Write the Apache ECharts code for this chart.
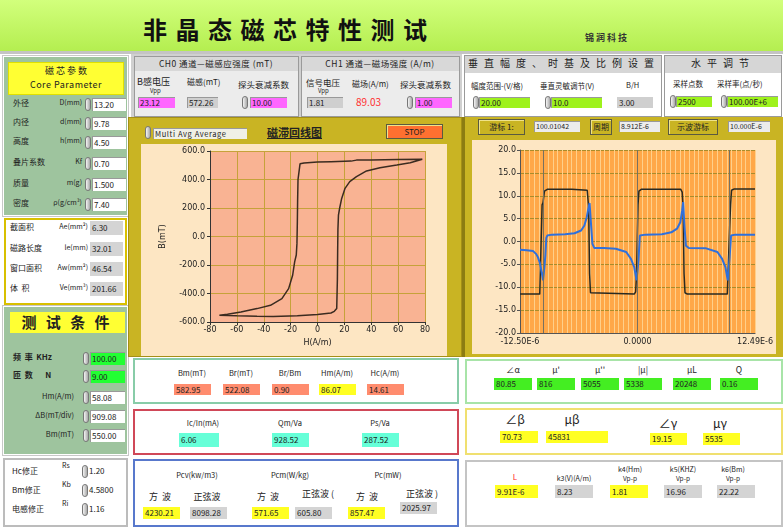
<!DOCTYPE html>
<html>
<head>
<meta charset="utf-8">
<script src="https://cdn.jsdelivr.net/npm/echarts@6/dist/echarts.min.js"></script>
<style>
body{margin:0;width:783px;height:529px;overflow:hidden;background:#fff;position:relative;
  font-family:"Noto Sans CJK SC","DejaVu Sans",sans-serif;}
.a{position:absolute;box-sizing:border-box;}
.t{position:absolute;font-size:8px;color:#222;white-space:nowrap;line-height:1;}
.v{position:absolute;box-sizing:border-box;font-size:8px;color:#222;white-space:nowrap;padding-left:2px;
  box-shadow:inset 1px 1px 0 #999;}
.sp{position:absolute;box-sizing:border-box;width:6px;height:13px;border-radius:3px;
  background:linear-gradient(90deg,#f4f4f4,#a8a8a8);border:1px solid #777;}
.btn{position:absolute;box-sizing:border-box;font-size:8px;color:#222;text-align:center;
  border:1px solid #5a5a40;box-shadow:inset 1px 1px 0 #efe28a;}
.chart{position:absolute;z-index:2;}
</style>
</head>
<body>
<div id="hystChart" class="chart" style="left:141px;top:144px;width:306px;height:212px"></div>
<div id="waveChart" class="chart" style="left:472px;top:140px;width:304px;height:214px"></div>
<script>
// 磁滞回线 [H(A/m), B(mT)]
const hysteresisLoop = [
  [78, 542], [60, 540], [40, 537], [29, 536], [25, 529], [10, 525], [0, 522], [-5, 520],
  [-10, 516], [-13, 510], [-14.3, 500], [-14.5, 400], [-14.8, 250], [-15, 100], [-15.3, -50],
  [-15.8, -130], [-17, -178], [-18.5, -272], [-21.5, -366], [-26.5, -436], [-35, -483],
  [-45, -506], [-57, -530], [-67, -546], [-73, -553],
  [-60, -557], [-45, -560], [-33, -561], [-15, -556], [0, -548], [10, -537], [12.5, -525],
  [14.3, -505], [14.8, -300], [15, -100], [15.2, 50], [15.6, 150], [16.5, 200], [18, 267],
  [20.5, 338], [24, 385], [29, 420], [36.5, 460], [46.5, 483], [59, 502], [69, 518], [78, 542]
];
const hystXTicks = [-80, 80, 20];
const hystYTicks = [-600, 600, 200];

// 波形 [t(us), V]
const squareWave = [
  [-12.5, -11.5], [-10.4, -11.5], [-10.25, -11.2], [-10.15, 8.0], [-10.05, 8.5], [-9.9, 11.0],
  [-9.6, 11.4], [-7.0, 11.4], [-6.9, 11.2], [-5.35, 11.2], [-5.25, 10.8], [-5.2, 7.5],
  [-5.1, -7.0], [-5.0, -11.2], [-4.8, -11.5], [-0.35, -11.5], [-0.2, -11.0], [-0.1, -7.0],
  [0.05, 8.0], [0.15, 11.0], [0.4, 11.4], [4.6, 11.4], [4.75, 10.8], [4.85, 7.5], [4.95, -7.0],
  [5.05, -11.2], [5.3, -11.5], [9.55, -11.5], [9.7, -11.2], [9.8, 3.0], [9.9, 8.0],
  [10.0, 11.2], [10.3, 11.5], [12.5, 11.5]
];
const currentWave = [
  [-12.5, -1.8], [-11.8, -1.9], [-11.1, -2.1], [-10.8, -2.7], [-10.6, -3.4], [-10.4, -4.6],
  [-10.3, -5.6], [-10.15, -7.2], [-10.05, -8.5], [-9.9, -5.5], [-9.8, -3.0], [-9.7, 0.8],
  [-9.6, 1.3], [-9.1, 1.5], [-7.7, 1.6], [-6.7, 1.8], [-6.0, 2.4], [-5.65, 3.5], [-5.4, 5.3],
  [-5.2, 7.5], [-5.1, 8.4], [-4.95, 3.9], [-4.8, -0.5], [-4.6, -1.4], [-3.6, -1.4],
  [-2.3, -1.6], [-1.2, -2.3], [-0.7, -3.8], [-0.35, -5.6], [-0.1, -8.5], [0.1, -4.2],
  [0.25, 1.3], [0.85, 1.5], [2.6, 1.6], [3.6, 2.0], [4.2, 2.8], [4.55, 4.2], [4.75, 6.8],
  [4.85, 8.6], [5.0, 3.1], [5.15, -0.9], [5.45, -1.4], [7.3, -1.5], [8.5, -2.3], [9.0, -3.8],
  [9.35, -5.6], [9.6, -8.5], [9.8, -3.4], [9.95, 1.3], [10.4, 1.5], [12.5, 1.5]
];
const cursorX = [-10, 0, 9.8];
const waveXLabelValues = [-12.5, 0, 12.5];
const waveXLabelText = ['-12.50E-6', '0.0000', '12.49E-6'];
const waveYTicks = [-20, 20, 5];

// 面板数值
const coreNames = ['外径', '内径', '高度', '叠片系数', '质量', '密度'];
const coreUnits = ['D(mm)', 'd(mm)', 'h(mm)', 'Kf', 'm(g)', 'ρ(g/cm³)'];
const coreValues = ['13.20', '9.78', '4.50', '0.70', '1.500', '7.40'];
const geoNames = ['截面积', '磁路长度', '窗口面积', '体  积'];
const geoUnits = ['Ae(mm²)', 'le(mm)', 'Aw(mm²)', 'Ve(mm³)'];
const geoValues = ['6.30', '32.01', '46.54', '201.66'];
const condLabels = ['Hm(A/m)', 'ΔB(mT/div)', 'Bm(mT)'];
const condValues = ['100.00', '9.00', '58.08', '909.08', '550.00'];
const corrNames = ['Hc修正', 'Bm修正', '电感修正'];
const corrSymbols = ['Rs', 'Kb', 'Ri'];
const corrValues = ['1.20', '4.5800', '1.16'];
const bLabels = ['Bm(mT)', 'Br(mT)', 'Br/Bm', 'Hm(A/m)', 'Hc(A/m)'];
const bValues = ['582.95', '522.08', '0.90', '86.07', '14.61'];
const pLabels = ['Ic/In(mA)', 'Qm/Va', 'Ps/Va'];
const pValues = ['6.06', '928.52', '287.52'];
const lossHeads = ['Pcv(kw/m3)', 'Pcm(W/kg)', 'Pc(mW)'];
const lossValues = ['4230.21', '8098.28', '571.65', '605.80', '857.47', '2025.97'];
const muLabels = ['∠α', "μ'", "μ''", '|μ|', 'μL', 'Q'];
const muValues = ['80.85', '816', '5055', '5338', '20248', '0.16'];
const angLabels = ['∠β', 'μβ', '∠γ', 'μγ'];
const angValues = ['70.73', '45831', '19.15', '5535'];
const kLabels = ['k3(V)(A/m)', 'k4(Hm)', 'k5(KHZ)', 'k6(Bm)'];
const kValues = ['9.91E-6', '8.23', '1.81', '16.96', '22.22'];

// ---------- 界面 ----------
const root = document.body;
function rect(x, y, w, h, style) {
  const d = document.createElement('div');
  d.className = 'a';
  d.style.cssText = `left:${x}px;top:${y}px;width:${w}px;height:${h}px;` + (style || '');
  root.appendChild(d);
  return d;
}
function text(x, y, s, style) {
  const d = document.createElement('div');
  d.className = 't';
  d.style.cssText = `left:${x}px;top:${y}px;` + (style || '');
  d.textContent = s;
  root.appendChild(d);
  return d;
}
function ctext(cx, y, s, style) {
  return text(cx, y, s, 'transform:translateX(-50%);' + (style || ''));
}
function rtext(rx, y, s, style) {
  return text(rx, y, s, 'transform:translateX(-100%);' + (style || ''));
}
function field(x, y, w, h, s, bg, style) {
  const d = document.createElement('div');
  d.className = 'v';
  d.style.cssText = `left:${x}px;top:${y}px;width:${w}px;height:${h}px;line-height:${h}px;background:${bg};` + (style || '');
  d.textContent = s;
  root.appendChild(d);
  return d;
}
function spin(x, y) {
  const d = document.createElement('div');
  d.className = 'sp';
  d.style.cssText = `left:${x}px;top:${y}px;`;
  root.appendChild(d);
}
function btn(x, y, w, h, s, bg) {
  const d = document.createElement('div');
  d.className = 'btn';
  d.style.cssText = `left:${x}px;top:${y}px;width:${w}px;height:${h}px;line-height:${h - 2}px;background:${bg};`;
  d.textContent = s;
  root.appendChild(d);
}

// 标题栏
rect(0, 0, 783, 51, 'background:linear-gradient(#d2ff7c,#b4ee50);');
text(143, 17, '非晶态磁芯特性测试', 'font-size:24px;font-weight:bold;letter-spacing:8.5px;color:#111;');
text(585, 33, '锦润科技', 'font-size:9px;font-weight:bold;letter-spacing:2px;color:#333;');
rect(0, 51, 783, 3, 'background:#c4c4c4;');

// 左列
rect(0, 54, 131, 475, 'background:#fff;');
rect(3, 56, 125, 160, 'background:#9ec49e;border:1px solid #fff;outline:1px solid #c8c8c8;');
rect(8, 62, 116, 33, 'background:#ffff33;border:1px solid #e0e000;');
ctext(66, 66, '磁 芯 参 数', 'font-size:9px;');
ctext(66, 80, 'Core  Parameter', 'font-size:9px;letter-spacing:0.5px;');
const coreY = [104, 123, 142, 163, 184, 204];
coreNames.forEach((n, i) => {
  text(13, coreY[i] - 5, n, 'font-size:8px;');
  rtext(82, coreY[i] - 5, coreUnits[i], 'font-size:7px;');
  spin(85, coreY[i] - 6);
  field(92, coreY[i] - 6, 34, 13, coreValues[i], '#fff');
});

rect(4, 218, 123, 87, 'background:#fff;border:2px solid #d8c000;');
const geoY = [228, 249, 269, 289];
geoNames.forEach((n, i) => {
  text(10, geoY[i] - 5, n, 'font-size:8px;white-space:pre;');
  rtext(88, geoY[i] - 5, geoUnits[i], 'font-size:7px;');
  field(90, geoY[i] - 7, 33, 14, geoValues[i], '#d4d4d4', 'box-shadow:none;');
});

rect(3, 306, 125, 149, 'background:#9ec49e;border:1px solid #fff;outline:1px solid #c8c8c8;');
rect(10, 312, 115, 21, 'background:#ffff33;');
ctext(67, 314, '测 试 条 件', 'font-size:15px;font-weight:bold;letter-spacing:3px;color:#222;');
const condY = [358, 376, 397, 416, 435];
text(13, condY[0] - 5, '频  率  KHz', 'font-size:8px;white-space:pre;font-weight:bold;');
text(13, condY[1] - 5, '匝  数       N', 'font-size:8px;white-space:pre;font-weight:bold;');
condLabels.forEach((n, i) => rtext(74, condY[i + 2] - 5, n, 'font-size:7.5px;'));
condValues.forEach((s, i) => {
  spin(83, condY[i] - 6);
  field(90, condY[i] - 6, 35, 13, s, i < 2 ? '#22ff33' : '#fff');
});

rect(3, 458, 125, 69, 'background:#fff;border:2px solid #bcbcbc;');
const corrY = [471, 490, 509];
corrNames.forEach((n, i) => {
  text(12, corrY[i] - 4, n, 'font-size:8px;');
  text(62, corrY[i] - 9, corrSymbols[i], 'font-size:7px;');
  spin(82, corrY[i] - 6);
  text(89, corrY[i] - 4, corrValues[i], 'font-size:8px;');
});

// 顶部通道面板
rect(131, 54, 331, 64, 'background:#d0d0d0;');
rect(134, 56, 165, 61, 'background:#ececec;border:1px solid #9a9a9a;');
rect(135, 57, 163, 14, 'background:#d8d8d8;');
ctext(216, 59, 'CH0 通道—磁感应强度 (mT)', 'font-size:8.5px;letter-spacing:0.5px;');
text(137, 77, 'B感电压', 'font-size:9px;');
text(150, 88, 'Vpp', 'font-size:6px;');
text(187, 78, '磁感(mT)', 'font-size:8px;');
text(238, 80, '探头衰减系数', 'font-size:8.5px;');
field(138, 97, 37, 11, '23.12', '#ff66ff');
field(187, 97, 31, 11, '572.26', '#cfcfcf');
spin(242, 96);
field(250, 97, 37, 11, '10.00', '#ff66ff');

rect(301, 56, 159, 61, 'background:#ececec;border:1px solid #9a9a9a;');
rect(302, 57, 157, 14, 'background:#d8d8d8;');
ctext(380, 59, 'CH1 通道—磁场强度 (A/m)', 'font-size:8.5px;letter-spacing:0.5px;');
text(306, 78, '信号电压', 'font-size:8.5px;');
text(318, 88, 'Vpp', 'font-size:6px;');
text(352, 80, '磁场(A/m)', 'font-size:8px;');
text(400, 80, '探头衰减系数', 'font-size:8.5px;');
field(307, 97, 36, 11, '1.81', '#cfcfcf');
text(356, 97, '89.03', 'font-size:10px;color:#ff3030;');
spin(407, 96);
field(415, 97, 37, 11, '1.00', '#ff66ff');

// 顶部设置面板
rect(462, 54, 321, 64, 'background:#fff;');
rect(464, 55, 198, 62, 'border:1px solid #9a9a9a;background:#fff;');
rect(465, 56, 196, 17, 'background:#d6d6d6;');
ctext(564, 58, '垂直幅度、时基及比例设置', 'font-size:10px;letter-spacing:6px;');
text(471, 82, '幅度范围-(V/格)', 'font-size:7.5px;');
text(540, 82, '垂直灵敏调节(V)', 'font-size:7.5px;');
text(626, 81, 'B/H', 'font-size:7.5px;');
spin(473, 96);
field(479, 97, 51, 11, '20.00', '#9ef21c');
spin(545, 96);
field(551, 97, 51, 11, '10.0', '#9ef21c');
field(617, 97, 36, 11, '3.00', '#cfcfcf', 'box-shadow:none;');

rect(664, 55, 118, 62, 'border:1px solid #9a9a9a;background:#fff;');
rect(665, 56, 116, 17, 'background:#d6d6d6;');
ctext(723, 58, '水平调节', 'font-size:10px;letter-spacing:6px;');
text(673, 80, '采样点数', 'font-size:7.5px;');
text(717, 80, '采样率(点/秒)', 'font-size:7.5px;');
spin(670, 95);
field(676, 96, 36, 11, '2500', '#9ef21c');
spin(721, 95);
field(727, 96, 51, 11, '100.00E+6', '#9ef21c');

// 图表面板
rect(128, 117, 334, 240, 'background:#c9b423;border:1px solid #a48f16;');
spin(145, 126);
field(153, 128, 94, 11, 'Multi Avg Average', '#f0f0e6', 'letter-spacing:0.6px;font-size:7.5px;');
text(267, 127, '磁滞回线图', 'font-size:11px;font-weight:bold;text-decoration:underline;color:#222;');
btn(386, 124, 57, 15, 'STOP', '#ff7030');

rect(462, 117, 321, 240, 'background:#c9b423;border-left:3px solid #8c7c12;');
btn(478, 119, 47, 16, '游标 1:', '#c9b423');
field(534, 121, 46, 11, '100.01042', '#ececec', 'font-size:7px;');
btn(590, 119, 22, 16, '周期', '#c9b423');
field(619, 121, 41, 11, '8.912E-6', '#ececec', 'font-size:7px;');
btn(668, 119, 50, 16, '示波游标', '#c9b423');
field(728, 121, 42, 11, '10.000E-6', '#ececec', 'font-size:7px;');

// 底部结果面板（中）
rect(133, 358, 326, 46, 'border:2px solid #88cca8;background:#fff;');
const bCx = [192, 241, 290, 337, 385];
bLabels.forEach((n, i) => {
  ctext(bCx[i], 369, n, 'font-size:7.5px;');
  field(bCx[i] - 18, 384, 37, 11, bValues[i], i === 3 ? '#ffff22' : '#ff8c6e', 'box-shadow:none;');
});
rect(133, 409, 326, 46, 'border:2px solid #d04858;background:#fff;');
const pCx = [203, 290, 380];
pLabels.forEach((n, i) => {
  ctext(pCx[i], 419, n, 'font-size:7.5px;');
  field(pCx[i] - 24 + (i === 0 ? 0 : 6), 433, i === 0 ? 40 : 37, 14, pValues[i], '#66ffd8', 'box-shadow:none;');
});
rect(133, 459, 326, 68, 'border:2px solid #5878cc;background:#fff;');
const lossCx = [197, 290, 388];
lossHeads.forEach((n, i) => ctext(lossCx[i], 471, n, 'font-size:7.5px;'));
const lossSub = ['方  波', '正弦波', '方  波', '正弦波 (', '方  波', '正弦波 )'];
const lossSubX = [160, 207, 268, 318, 367, 422];
const lossBoxX = [143, 190, 252, 295, 348, 400];
lossSub.forEach((n, i) => {
  const odd = i % 2 === 1;
  ctext(lossSubX[i], odd && i > 2 ? 489 : 492, n, 'font-size:9px;white-space:pre;');
  field(lossBoxX[i], i === 5 ? 502 : 507, 37, 12, lossValues[i], odd ? '#d4d4d4' : '#ffff22', 'box-shadow:none;');
});

// 底部结果面板（右）
rect(465, 359, 318, 45, 'border:2px solid #a8e4a8;background:#fff;');
const muCx = [513, 556, 600, 643, 692, 739];
muLabels.forEach((n, i) => {
  ctext(muCx[i], 365, n, 'font-size:8.5px;');
  field(muCx[i] - 19, 378, 38, 12, muValues[i], '#44ee22', 'box-shadow:none;');
});
rect(465, 408, 318, 47, 'border:2px solid #f0e070;background:#fff;');
const angCx = [515, 572, 668, 720];
const angBox = [[500, 38], [546, 62], [650, 37], [703, 37]];
angLabels.forEach((n, i) => {
  ctext(angCx[i], i < 2 ? 413 : 417, n, 'font-size:12px;');
  field(angBox[i][0], i < 2 ? 431 : 433, angBox[i][1], 12, angValues[i], '#ffff22', 'box-shadow:none;');
});
rect(465, 460, 318, 67, 'border:2px solid #c4c4c4;background:#fff;');
ctext(515, 473, 'L', 'font-size:8px;color:#ff2020;');
ctext(574, 475, kLabels[0], 'font-size:7px;');
ctext(630, 466, kLabels[1], 'font-size:7px;');
ctext(630, 475, 'Vp-p', 'font-size:6.5px;');
ctext(683, 466, kLabels[2], 'font-size:7px;');
ctext(683, 475, 'Vp-p', 'font-size:6.5px;');
ctext(733, 466, kLabels[3], 'font-size:7px;');
ctext(733, 475, 'Vp-p', 'font-size:6.5px;');
const kBoxX = [495, 555, 610, 664, 717];
kValues.forEach((s, i) => {
  field(kBoxX[i], 485, i === 0 ? 43 : 38, 13, s, (i === 0 || i === 2) ? '#ffff22' : '#d4d4d4', 'box-shadow:none;');
});

// ---------- 图表 ----------
const axisFont = { fontSize: 8, color: '#222', fontFamily: 'DejaVu Sans' };

const hystChart = echarts.init(document.getElementById('hystChart'));
hystChart.setOption({
  animation: false,
  backgroundColor: '#fde6c3',
  grid: { left: 69, top: 7, right: 22, bottom: 34, show: true, backgroundColor: '#f9b393', borderWidth: 0 },
  xAxis: {
    type: 'value', min: hystXTicks[0], max: hystXTicks[1], interval: hystXTicks[2],
    name: 'H(A/m)', nameLocation: 'middle', nameGap: 17, nameTextStyle: axisFont,
    axisLine: { onZero: false, lineStyle: { color: '#333' } },
    axisTick: { length: 3, lineStyle: { color: '#333' } },
    axisLabel: Object.assign({ margin: 4 }, axisFont),
    splitLine: { lineStyle: { color: '#c6a23a' } }
  },
  yAxis: {
    type: 'value', min: hystYTicks[0], max: hystYTicks[1], interval: hystYTicks[2],
    name: 'B(mT)', nameLocation: 'middle', nameGap: 43, nameRotate: 90, nameTextStyle: axisFont,
    axisLine: { show: true, onZero: false, lineStyle: { color: '#333' } },
    axisTick: { show: true, length: 3, lineStyle: { color: '#333' } },
    axisLabel: Object.assign({ margin: 5, formatter: v => v.toFixed(1) }, axisFont),
    splitLine: { lineStyle: { color: '#c6a23a' } }
  },
  series: [{
    type: 'line', data: hysteresisLoop, showSymbol: false, smooth: false,
    lineStyle: { color: '#3b2b20', width: 1.5 }
  }]
});

const waveChart = echarts.init(document.getElementById('waveChart'));
waveChart.setOption({
  animation: false,
  backgroundColor: '#fde6c3',
  grid: { left: 48, top: 10, right: 12, bottom: 21, show: true, backgroundColor: '#ffa848', borderWidth: 0 },
  xAxis: {
    type: 'value', min: -12.5, max: 12.5, interval: 0.5,
    axisLine: { onZero: false, lineStyle: { color: '#555' } },
    axisTick: { show: false },
    axisLabel: Object.assign({
      margin: 5, showMinLabel: true, showMaxLabel: true,
      formatter: v => {
        const k = waveXLabelValues.findIndex(x => Math.abs(x - v) < 1e-9);
        return k >= 0 ? waveXLabelText[k] : '';
      }
    }, axisFont),
    splitLine: { lineStyle: { color: '#ffd08a', width: 1 } }
  },
  yAxis: {
    type: 'value', min: waveYTicks[0], max: waveYTicks[1], interval: waveYTicks[2],
    axisLine: { show: true, onZero: false, lineStyle: { color: '#555' } },
    axisTick: { show: true, length: 3, lineStyle: { color: '#555' } },
    axisLabel: Object.assign({ margin: 4, formatter: v => v.toFixed(1) }, axisFont),
    splitLine: { lineStyle: { color: '#a88c2c' } }
  },
  series: [
    {
      type: 'line', data: squareWave, showSymbol: false,
      lineStyle: { color: '#2a2a22', width: 1.5 },
      markLine: {
        silent: true, symbol: 'none', label: { show: false },
        lineStyle: { color: '#777060', width: 1, type: 'solid' },
        data: cursorX.map(x => ({ xAxis: x }))
      }
    },
    {
      type: 'line', data: currentWave, showSymbol: false,
      lineStyle: { color: '#2f70dc', width: 2 }
    }
  ]
});
</script>
</body>
</html>
